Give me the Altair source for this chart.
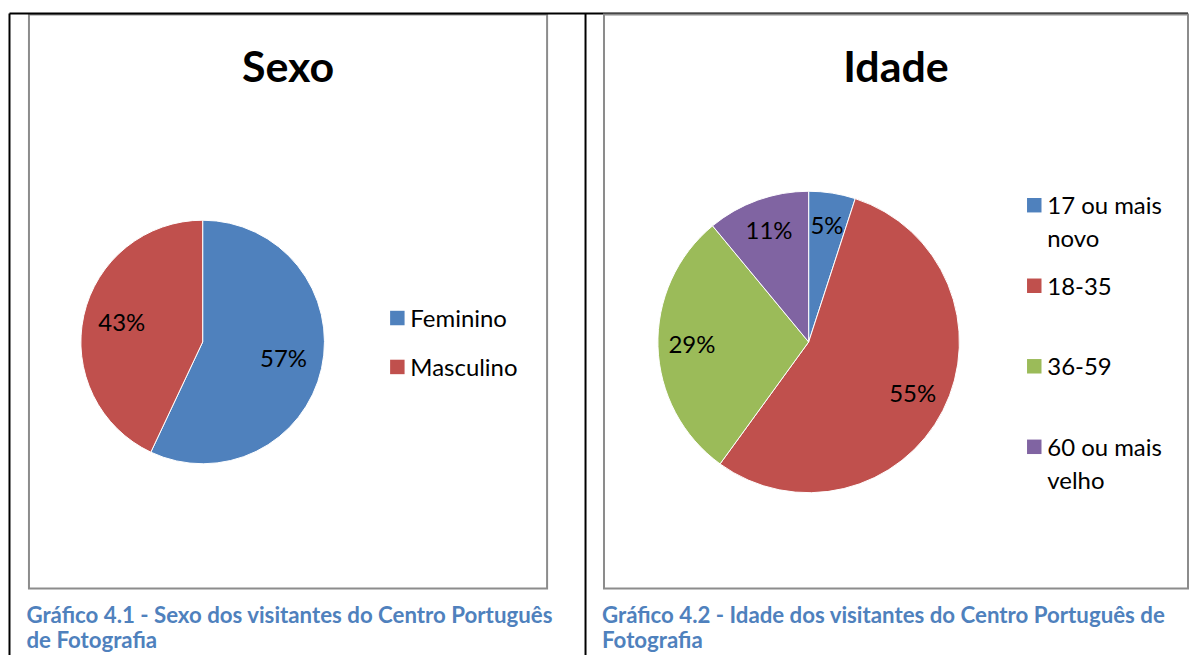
import altair as alt
import pandas as pd

# ---- data ----
sexo_cats = ["Feminino", "Masculino"]
sexo_vals = [57, 43]
sexo_colors = ["#4F81BD", "#C0504D"]

idade_cats = ["17 ou mais novo", "18-35", "36-59", "60 ou mais velho"]
idade_legend = ["17 ou mais\nnovo", "18-35", "36-59", "60 ou mais\nvelho"]
idade_vals = [5, 55, 29, 11]
idade_colors = ["#4F81BD", "#C0504D", "#9BBB59", "#8064A2"]

titles = ["Sexo", "Idade"]
captions = [
    "Gráfico 4.1 - Sexo dos visitantes do Centro Português\nde Fotografia",
    "Gráfico 4.2 - Idade dos visitantes do Centro Português de\nFotografia",
]

FONT = "Lato"
CAPTION_COLOR = "#4F81BD"


def panel(cats, vals, colors, legend_labels, title, caption, w, h, cx, cy, r,
          lab_r, leg_x, leg_range, cap_x, decor=()):
    df = pd.DataFrame({
        "cat": cats,
        "val": vals,
        "idx": list(range(len(cats))),
        "pct": [f"{v}%" for v in vals],
        "leg": legend_labels,
    })
    base = alt.Chart(df)
    color = alt.Color("cat:N", scale=alt.Scale(domain=cats, range=colors), legend=None)
    theta = alt.Theta("val:Q", stack=True)
    order = alt.Order("idx:Q")
    pie = base.mark_arc(radius=r, stroke="white", strokeWidth=1).encode(
        theta=theta, color=color, order=order, x=alt.value(cx), y=alt.value(cy)
    )
    labels = base.mark_text(radius=lab_r, font=FONT, fontSize=24, color="black").encode(
        theta=theta, order=order, text="pct:N", x=alt.value(cx), y=alt.value(cy)
    )
    ypos = alt.Y("idx:O", scale=alt.Scale(range=leg_range, padding=0), axis=None)
    leg_sq = base.mark_square(size=210, opacity=1).encode(
        x=alt.value(leg_x), y=ypos, color=color
    )
    leg_txt = base.mark_text(
        align="left", baseline="alphabetic", dy=9, lineBreak="\n", lineHeight=33,
        font=FONT, fontSize=24, color="black"
    ).encode(x=alt.value(leg_x + 13), y=ypos, text="leg:N")
    tdf = alt.Chart(pd.DataFrame({"t": [title], "c": [caption]}))
    ttl = tdf.mark_text(
        font=FONT, fontSize=43, fontWeight="bold", baseline="middle", color="black"
    ).encode(text="t:N", x=alt.value(w / 2), y=alt.value(55))
    cap = tdf.mark_text(
        font=FONT, fontSize=22.3, fontWeight="bold", color=CAPTION_COLOR,
        align="left", baseline="alphabetic", lineBreak="\n", lineHeight=26,
    ).encode(text="c:N", x=alt.value(cap_x), y=alt.value(h + 34))
    return alt.layer(pie, labels, leg_sq, leg_txt, ttl, cap, *decor).properties(
        width=w, height=h
    )


W_LEFT, W_RIGHT, GAP = 519, 585, 57

# document table lines (decoration)
dummy = alt.Chart(pd.DataFrame({"d": [0]}))
rule_style = dict(color="black", strokeWidth=2)
decor = [
    dummy.mark_rule(**rule_style).encode(x=alt.value(-19.5), y=alt.value(-1), y2=alt.value(645)),
    dummy.mark_rule(**rule_style).encode(x=alt.value(557.5), y=alt.value(-1), y2=alt.value(645)),
    dummy.mark_rule(**rule_style).encode(x=alt.value(-19.5), x2=alt.value(W_LEFT + GAP + W_RIGHT),
                                          y=alt.value(-1)),
]

left = panel(sexo_cats, sexo_vals, sexo_colors, sexo_cats, titles[0], captions[0],
             W_LEFT, 575, 174, 328, 122, 83, 369, [304, 353], -2.5, decor)
right = panel(idade_cats, idade_vals, idade_colors, idade_legend, titles[1], captions[1],
              W_RIGHT, 575, 205, 328, 151, 117, 431, [191, 433], -2)

chart = alt.hconcat(left, right, spacing=GAP, bounds="flush").resolve_scale(
    color="independent", theta="independent", y="independent"
).configure_view(stroke="#8c8c8c", strokeWidth=2).properties(
    padding={"left": -1, "top": 3, "right": 0, "bottom": -6}
)

chart.save("out.html", embed_options={"renderer": "svg", "actions": False})
